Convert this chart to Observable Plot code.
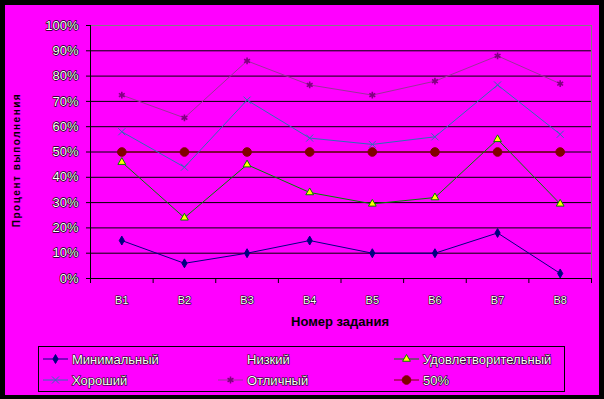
<!DOCTYPE html>
<html>
<head>
<meta charset="utf-8">
<script src="https://cdn.jsdelivr.net/npm/d3@7"></script>
<script src="https://cdn.jsdelivr.net/npm/@observablehq/plot@0.6"></script>
<style>
  body { margin: 0; background: #000; }
  #wrap { position: relative; width: 604px; height: 399px; background: #000; overflow: hidden; font-family: Arial, "Liberation Sans", sans-serif; }
  #bg { position: absolute; left: 5px; top: 5px; width: 594px; height: 390px; background: #ff00ff; }
  #chart, #legend { position: absolute; left: 0; top: 0; }
  #xtitle { position: absolute; left: 240px; width: 200px; top: 314px; text-align: center; font-weight: bold; font-size: 13px; color: #000; }
  #ytitle { position: absolute; left: 16px; top: 160px; transform: translate(-50%, -50%) rotate(-90deg); white-space: nowrap; font-weight: bold; font-size: 10px; letter-spacing: 1.5px; color: #000; }
</style>
</head>
<body>
<div id="wrap">
  <div id="bg"></div>
  <div id="chart"></div>
  <div id="xtitle">Номер задания</div>
  <div id="ytitle">Процент выполнения</div>
  <div id="legend"></div>
</div>
<script>
const cats = ["В1", "В2", "В3", "В4", "В5", "В6", "В7", "В8"];
const minimal = [15, 6, 10, 15, 10, 10, 18, 2];
const satisfactory = [46, 24, 45, 34, 29.5, 32, 55, 29.5];
const good = [58, 44, 70.5, 55.5, 53, 56, 76.5, 57];
const excellent = [72.5, 63.5, 86, 76.5, 72.5, 78, 88, 77];
const fifty = [50, 50, 50, 50, 50, 50, 50, 50];
const yTicks = [0, 10, 20, 30, 40, 50, 60, 70, 80, 90, 100];
const legendNames = ["Минимальный", "Низкий", "Удовлетворительный", "Хороший", "Отличный", "50%"];

const series = [
  {name: "50%", values: fifty, line: "#800000", symbol: "circle", fill: "#800000", stroke: "#800000", r: 4.3, sw: 1},
  {name: "Минимальный", values: minimal, line: "#000080", symbol: "diamond", fill: "#000080", stroke: "#000080", r: 2.7, sw: 1},
  {name: "Удовлетворительный", values: satisfactory, line: "#008000", symbol: "triangle", fill: "#ffff00", stroke: "#008000", r: 2.9, sw: 1},
  {name: "Хороший", values: good, line: "#2f6fb5", symbol: "times", fill: "none", stroke: "#2f6fb5", r: 3.3, sw: 1},
  {name: "Отличный", values: excellent, line: "#993399", symbol: "asterisk", fill: "none", stroke: "#800080", r: 3.2, sw: 1.6}
];

const rows = s => s.values.map((v, i) => ({i, v}));
const seriesMarks = series.flatMap(s => [
  Plot.line(rows(s), {x: d => d.i + 0.5, y: "v", stroke: s.line, strokeWidth: 1}),
  Plot.dot(rows(s), {x: d => d.i + 0.5, y: "v", symbol: () => s.symbol, r: s.r, fill: s.fill, stroke: s.stroke, strokeWidth: s.sw})
]);

const font = {fontFamily: "Arial, 'Liberation Sans', sans-serif"};

const chart = Plot.plot({
  width: 604,
  height: 399,
  marginLeft: 90,
  marginRight: 13,
  marginTop: 25,
  marginBottom: 121,
  style: {background: "transparent", ...font},
  x: {type: "linear", domain: [0, cats.length], axis: null},
  y: {domain: [0, 100], axis: null},
  symbol: {type: "identity"},
  marks: [
    Plot.ruleY(yTicks.filter(t => t > 0 && t < 100), {x1: 0, x2: cats.length, stroke: "#000", strokeWidth: 1}),
    Plot.ruleY([100], {x1: 0, x2: cats.length, stroke: "#808080", strokeWidth: 1}),
    Plot.ruleX([cats.length], {y1: 0, y2: 100, stroke: "#808080", strokeWidth: 1}),
    Plot.ruleY([0], {x1: 0, x2: cats.length, stroke: "#000", strokeWidth: 1}),
    Plot.ruleX([0], {y1: 0, y2: 100, stroke: "#000", strokeWidth: 1}),
    Plot.axisY({ticks: yTicks, tickFormat: d => d + "%", tickSize: 4, tickPadding: 8, stroke: "#000", fill: "#fff", textStroke: "#000", textStrokeWidth: 1.3, fontSize: 13, label: null}),
    Plot.axisX({ticks: d3.range(cats.length + 1), tickFormat: () => "", tickSize: 5, stroke: "#000", label: null}),
    Plot.axisX({ticks: cats.map((c, i) => i + 0.5), tickFormat: d => cats[Math.floor(d)], tickSize: 0, tickPadding: 18, fill: "#fff", textStroke: "#000", textStrokeWidth: 1.2, fontSize: 11, label: null}),
    ...seriesMarks
  ]
});
document.getElementById("chart").appendChild(chart);

// Legend
const styleOf = name => series.find(s => s.name === name);
const lg = d3.select("#legend").append("svg").attr("width", 604).attr("height", 399);
lg.append("rect").attr("x", 38.5).attr("y", 346.5).attr("width", 526).attr("height", 45).attr("fill", "none").attr("stroke", "#000");
const colX = [43, 218, 394];
const rowY = [359, 380];
const symMap = {circle: d3.symbolCircle, diamond: d3.symbolDiamond, triangle: d3.symbolTriangle, times: d3.symbolTimes, asterisk: d3.symbolAsterisk};
legendNames.forEach((name, k) => {
  const cx = colX[k % 3], cy = rowY[Math.floor(k / 3)];
  const s = styleOf(name);
  const g = lg.append("g");
  if (s) {
    g.append("line").attr("x1", cx).attr("x2", cx + 25).attr("y1", cy).attr("y2", cy).attr("stroke", s.line);
    g.append("path").attr("transform", `translate(${cx + 12.5},${cy})`)
      .attr("d", d3.symbol(symMap[s.symbol], Math.PI * s.r * s.r)())
      .attr("fill", s.fill).attr("stroke", s.stroke).attr("stroke-width", s.sw);
  }
  g.append("text").attr("x", cx + 29).attr("y", cy).attr("dy", "0.36em")
    .attr("font-family", "Arial, 'Liberation Sans', sans-serif").attr("font-size", 13)
    .attr("fill", "#fff").attr("stroke", "#000").attr("stroke-width", 1.2).attr("paint-order", "stroke")
    .text(name);
});
</script>
</body>
</html>
